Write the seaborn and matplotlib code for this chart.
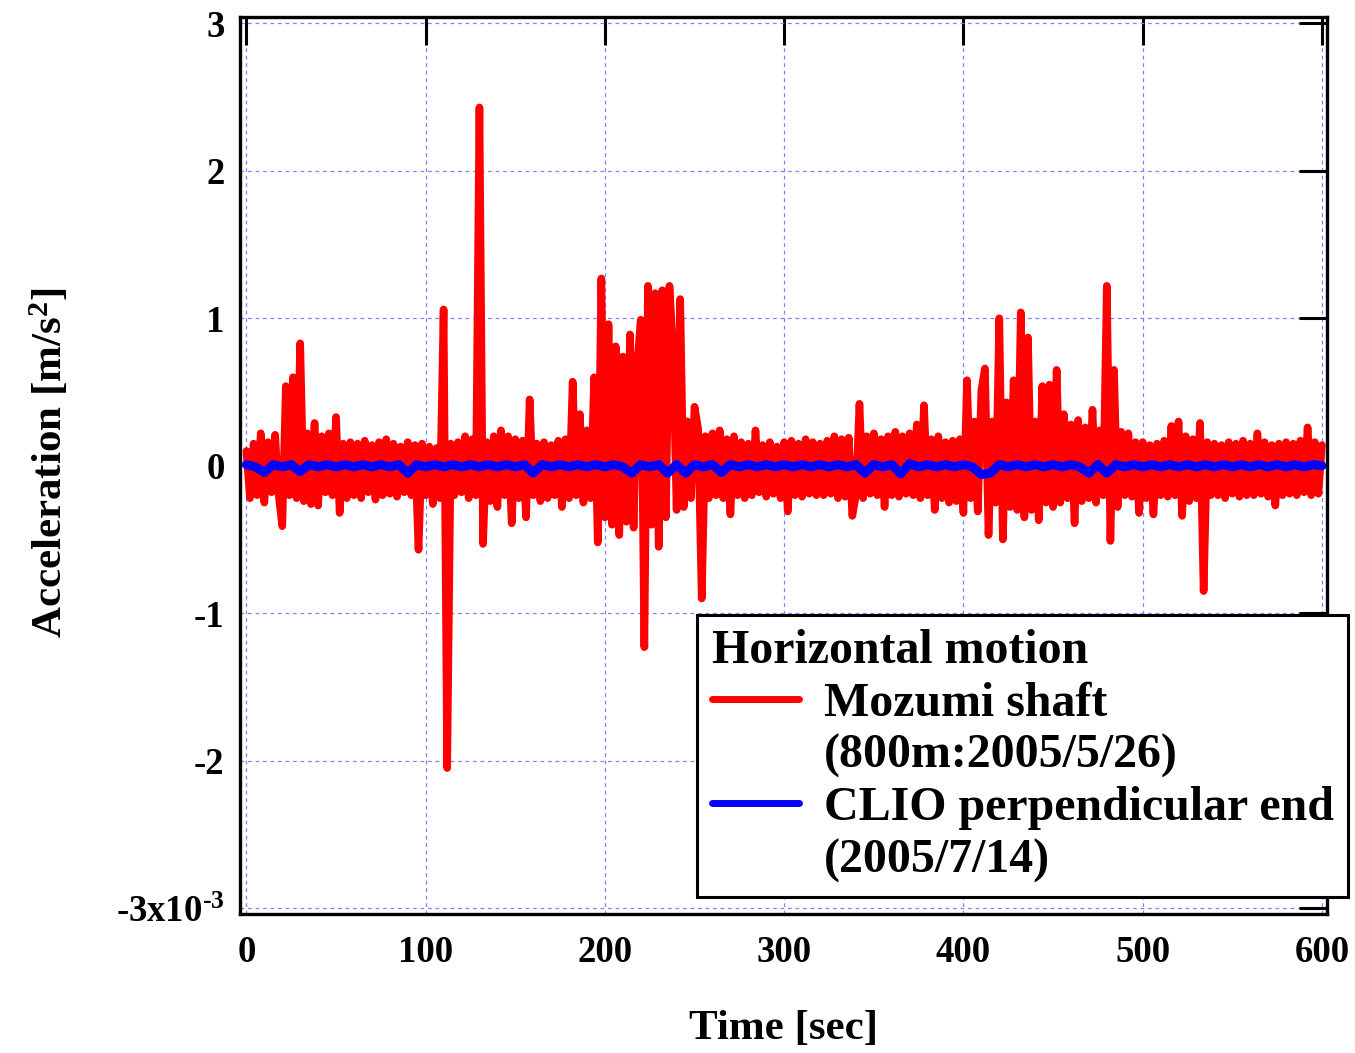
import numpy as np
import matplotlib
matplotlib.use("Agg")
import matplotlib.pyplot as plt
import seaborn as sns
from matplotlib.lines import Line2D

# Mozumi shaft trace, every 2 s (peaks / troughs)
mozumi_step = 2.0
mozumi_acc = [
    0.10, -0.22, 0.15, -0.20, 0.22, -0.25, 0.16, -0.18, 0.21, -0.20,
    -0.41, 0.54, -0.20, 0.60, -0.22, 0.83, -0.24, 0.22, -0.26, 0.29,
    -0.27, 0.20, -0.18, 0.22, -0.20, 0.33, -0.32, 0.15, -0.22, 0.16,
    -0.20, 0.15, -0.22, 0.17, -0.18, 0.14, -0.23, 0.16, -0.20, 0.18,
    -0.19, 0.15, -0.21, 0.13, -0.18, 0.16, -0.20, 0.14, -0.57, 0.15,
    -0.20, 0.13, -0.26, 0.12, -0.22, 1.06, -2.05, 0.15, -0.20, 0.16,
    -0.18, 0.20, -0.22, 0.18, -0.20, 2.43, -0.53, 0.16, -0.24, 0.20,
    -0.28, 0.24, -0.20, 0.20, -0.39, 0.18, -0.22, 0.17, -0.35, 0.45,
    -0.20, 0.15, -0.24, 0.16, -0.22, 0.14, -0.20, 0.17, -0.28, 0.18,
    -0.22, 0.57, -0.20, 0.35, -0.25, 0.24, -0.22, 0.60, -0.52, 1.27,
    -0.35, 0.96, -0.40, 0.81, -0.47, 0.74, -0.38, 0.89, -0.42, 0.68,
    0.99, -1.23, 1.22, -0.40, 1.17, -0.55, 1.19, -0.35, 1.22, 0.79,
    -0.30, 1.13, -0.28, 0.30, -0.22, 0.40, 0.25, -0.90, 0.20, -0.22,
    0.22, -0.20, 0.24, -0.22, 0.18, -0.33, 0.20, -0.20, 0.16, -0.22,
    0.15, -0.20, 0.24, -0.18, 0.14, -0.21, 0.16, -0.19, 0.13, -0.22,
    0.16, -0.31, 0.17, -0.20, 0.15, -0.21, 0.18, -0.19, 0.16, -0.20,
    0.15, -0.20, 0.17, -0.19, 0.20, -0.22, 0.18, -0.21, 0.19, -0.34,
    -0.20, 0.42, -0.22, 0.20, -0.19, 0.22, -0.20, 0.18, -0.28, 0.20,
    -0.20, 0.23, -0.21, 0.20, -0.19, 0.22, -0.20, 0.28, -0.22, 0.41,
    -0.20, 0.18, -0.30, 0.20, -0.22, 0.16, -0.25, 0.17, -0.24, 0.18,
    -0.32, 0.58, -0.22, 0.30, -0.31, 0.51, 0.66, -0.47, 0.30, -0.25,
    1.00, -0.50, 0.43, -0.28, 0.58, -0.30, 1.04, -0.35, 0.87, -0.30,
    0.30, -0.37, 0.54, -0.25, 0.55, -0.28, 0.65, -0.25, 0.35, -0.22,
    0.28, -0.39, 0.31, -0.24, 0.26, -0.22, 0.38, -0.25, 0.24, -0.20,
    1.22, -0.51, 0.65, -0.28, 0.23, -0.20, 0.22, -0.21, 0.16, -0.32,
    0.16, -0.22, 0.14, -0.33, 0.15, -0.20, 0.17, -0.21, 0.27, -0.20,
    0.30, -0.34, 0.20, -0.24, 0.18, -0.22, 0.29, -0.85, 0.16, -0.20,
    0.15, -0.20, 0.14, -0.22, 0.16, -0.19, 0.15, -0.21, 0.17, -0.20,
    0.15, -0.20, 0.22, -0.19, 0.16, -0.21, 0.14, -0.27, 0.15, -0.20,
    0.16, -0.19, 0.15, -0.20, 0.17, -0.18, 0.26, -0.20, 0.16, -0.19,
    0.14,
]

clio_step = 5.0
clio_acc = [
    0.008, -0.008, -0.045, 0.008, -0.008, 0.008, -0.04, 0.008, -0.008, 0.008,
    -0.008, 0.008, -0.008, 0.008, -0.008, 0.008, -0.008, 0.008, -0.05, 0.008,
    -0.008, 0.008, -0.008, 0.008, -0.008, 0.008, -0.008, 0.008, -0.008, 0.008,
    -0.008, 0.008, -0.05, 0.008, -0.008, 0.008, -0.008, 0.008, -0.008, 0.008,
    -0.008, 0.008, -0.008, -0.05, 0.008, -0.008, 0.008, -0.05, 0.008, -0.05,
    0.008, -0.008, 0.008, -0.045, 0.008, -0.008, 0.008, -0.008, 0.008, -0.008,
    0.008, -0.008, 0.008, -0.008, 0.008, -0.008, 0.008, -0.008, 0.008, -0.05,
    0.008, -0.008, 0.008, -0.055, 0.015, -0.008, 0.008, -0.008, 0.008, -0.008,
    0.008, -0.008, -0.06, -0.05, 0.008, -0.008, 0.008, -0.008, 0.008, -0.008,
    0.008, -0.008, 0.008, -0.008, -0.05, 0.008, -0.05, 0.008, -0.008, 0.008,
    -0.008, 0.008, -0.008, 0.008, -0.008, 0.008, -0.008, 0.008, -0.008, 0.008,
    -0.008, 0.008, -0.008, 0.008, -0.008, 0.008, -0.008, 0.008, -0.008, 0.008,
    0.00,
]

x_ticks = [0, 100, 200, 300, 400, 500, 600]
y_ticks = [-3, -2, -1, 0, 1, 2, 3]
y_tick_labels = ['-3x10$^{\u20103}$', '-2', '-1', '0', '1', '2', '3']
legend_title = 'Horizontal motion'
legend_labels = ['Mozumi shaft', '(800m:2005/5/26)',
                 'CLIO perpendicular end', '(2005/7/14)']

sns.set_theme(style='white')
plt.rcParams['font.family'] = ['Liberation Serif', 'DejaVu Serif']
plt.rcParams['font.weight'] = 'bold'
plt.rcParams['text.color'] = 'black'
plt.rcParams['axes.labelcolor'] = 'black'
plt.rcParams['mathtext.fontset'] = 'custom'
plt.rcParams['mathtext.rm'] = 'Liberation Serif:bold'
plt.rcParams['mathtext.bf'] = 'Liberation Serif:bold'
plt.rcParams['mathtext.it'] = 'Liberation Serif:bold'
plt.rcParams['mathtext.default'] = 'rm'
plt.rcParams['axes.unicode_minus'] = False
plt.rcParams['path.simplify'] = False

t_mozumi = np.arange(len(mozumi_acc)) * mozumi_step
t_clio = np.arange(len(clio_acc)) * clio_step

fig = plt.figure(figsize=(13.55, 10.53), dpi=100)
ax = fig.add_axes([0.1771, 0.1320, 0.8022, 0.8521])

sns.lineplot(x=t_mozumi, y=mozumi_acc, ax=ax, color='#ff0000', linewidth=5.5,
             estimator=None, sort=False, solid_capstyle='round',
             solid_joinstyle='round', zorder=3)
sns.lineplot(x=t_clio, y=clio_acc, ax=ax, color='#0000ff', linewidth=6.5,
             estimator=None, sort=False, solid_capstyle='round',
             solid_joinstyle='round', zorder=4)

ax.set_xlim(-3.6, 602.8)
ax.set_ylim(-3.04, 3.045)
ax.set_xticks(x_ticks)
ax.set_yticks(y_ticks)
ax.set_yticklabels(y_tick_labels)

ax.grid(True, color='#8080ff', linestyle=(0, (3, 3)), linewidth=0.9)
ax.set_axisbelow(True)

for s in ax.spines.values():
    s.set_visible(True)
    s.set_color('black')
    s.set_linewidth(2.4)

ax.tick_params(direction='in', length=20, width=2.2, top=True, right=True,
               labelsize=26.5, colors='black')
ax.tick_params(axis='x', pad=15)
ax.tick_params(axis='y', pad=11)

ax.set_xlabel('Time [sec]', fontsize=31, fontweight='bold')
ax.set_ylabel('Acceleration [m/s$^2$]', fontsize=31, fontweight='bold')
ax.xaxis.set_label_coords(0.4998, -0.107)
ax.yaxis.set_label_coords(-0.155, 0.5026)

handles = [Line2D([], [], color='#ff0000', linewidth=5, solid_capstyle='round'),
           Line2D([], [], color='none'),
           Line2D([], [], color='#0000ff', linewidth=5, solid_capstyle='round'),
           Line2D([], [], color='none')]
leg = ax.legend(handles, legend_labels, title=legend_title,
                loc='upper left', bbox_to_anchor=(0.4207, 0.3332),
                borderaxespad=0, frameon=True, fancybox=False,
                edgecolor='black', framealpha=1, facecolor='white',
                handlelength=1.82, handletextpad=0.52, labelspacing=0.17,
                borderpad=0.3, alignment='left',
                prop={'size': 34.5, 'weight': 'bold'},
                title_fontproperties={'size': 34.5, 'weight': 'bold'})
leg.get_frame().set_linewidth(2.2)
leg.set_zorder(10)

fig.savefig('out.png', dpi=100, facecolor='white')
